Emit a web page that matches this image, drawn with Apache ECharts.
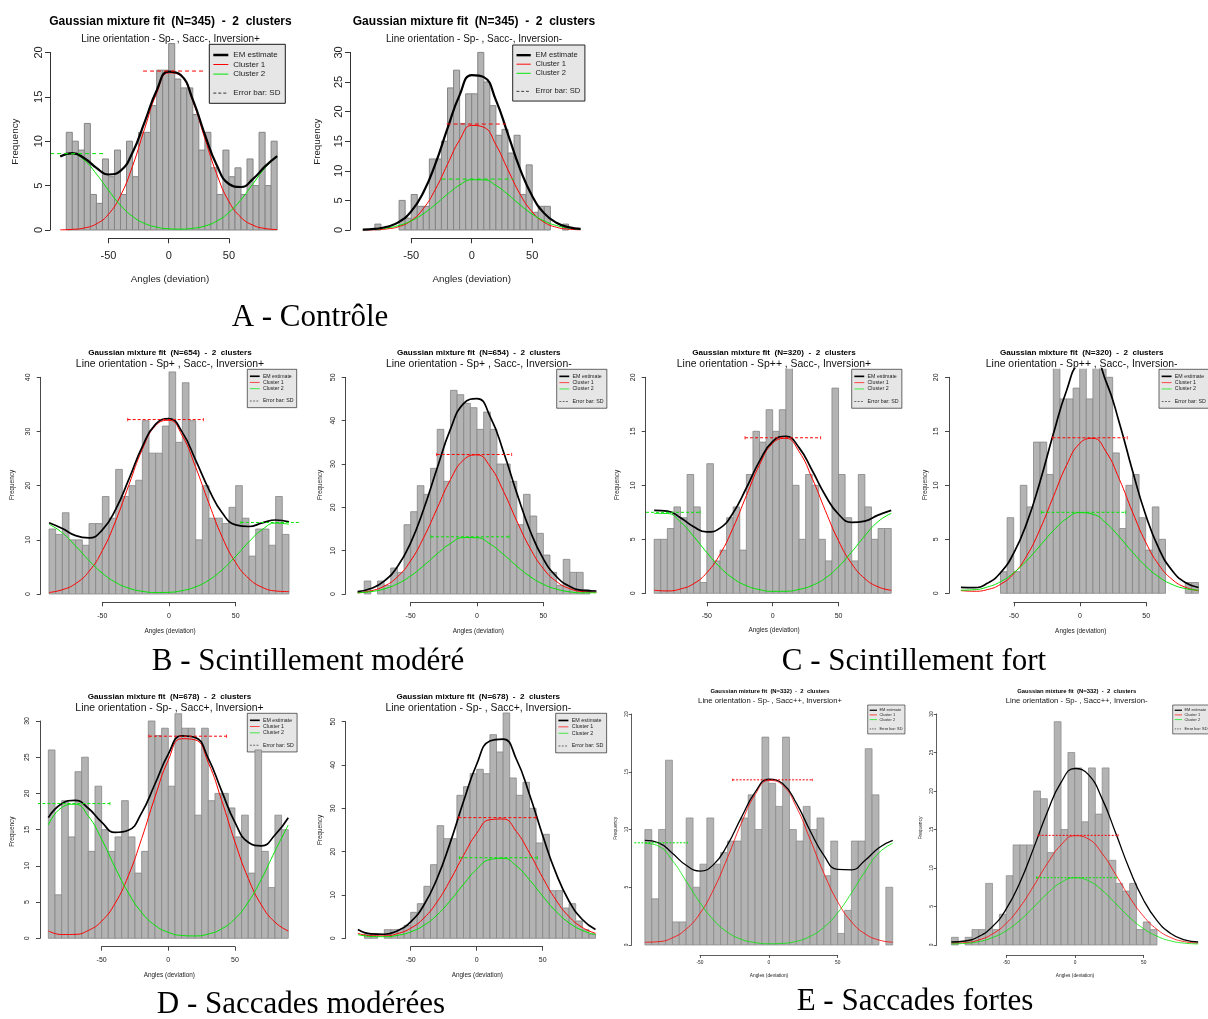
<!DOCTYPE html>
<html>
<head>
<meta charset="utf-8">
<script src="https://cdn.jsdelivr.net/npm/echarts@6/dist/echarts.min.js"></script>
<style>
html,body{margin:0;padding:0;background:#ffffff;}
#chart{width:1208px;height:1019px;}
</style>
</head>
<body>
<div id="chart"></div>
<script>
// ================= DATA =================
const curveX = [-90,-80,-70,-60,-50,-40,-30,-20,-10,0,10,20,30,40,50,60,70,80,90];
const binWidth = 5;
const binStart = [-85,-85,-90,-90,-90,-90,-90,-90,-90,-90];
const sampleN = [345,345,654,654,320,320,678,678,332,332];
const subtitles = [
  'Line orientation - Sp- , Sacc-, Inversion+',
  'Line orientation - Sp- , Sacc-, Inversion-',
  'Line orientation - Sp+ , Sacc-, Inversion+',
  'Line orientation - Sp+ , Sacc-, Inversion-',
  'Line orientation - Sp++ , Sacc-, Inversion+',
  'Line orientation - Sp++ , Sacc-, Inversion-',
  'Line orientation - Sp- , Sacc+, Inversion+',
  'Line orientation - Sp- , Sacc+, Inversion-',
  'Line orientation - Sp- , Sacc++, Inversion+',
  'Line orientation - Sp- , Sacc++, Inversion-'
];
const captions = ['A - Contrôle','B - Scintillement modéré','C - Scintillement fort','D - Saccades modérées','E - Saccades fortes'];
const legendLabels = ['EM estimate','Cluster 1','Cluster 2','Error bar: SD'];
const xTickValues = [-50, 0, 50];
const yTickTop = [20,30,40,50,20,20,30,50,20,30];
const yTickStep = [5,5,10,10,5,5,5,10,5,5];

// A - Contrôle
const countsA1 = [11,10,9,12,4,3,8,6,9,4,10,6,11,11,14,18,18,21,17,16,16,13,9,11,7,4,9,6,7,4,8,5,11,5,10];
const redA1   = [0.02,0.07,0.23,0.69,1.77,3.87,7.2,11.4,15.4,17.7,17.35,14.5,10.3,6.25,3.2,1.42,0.54,0.17,0.05];
const greenA1 = [8.26,8.58,7.85,6.31,4.48,2.79,1.53,0.74,0.32,0.14,0.10,0.19,0.45,1.01,1.98,3.42,5.22,6.99,8.26];
const emA1    = [8.28,8.65,8.08,7.0,6.25,6.66,8.73,12.14,15.72,17.84,17.45,14.69,10.75,7.26,5.18,4.84,5.76,7.16,8.31];
const errRedA1 = [3.7,25,17.9];      // mean, SD, height
const errGreenA1 = [-82,28,8.6];

const countsA2 = [0,1,0,0,0,5,2,6,4,4,12,12,15,24,27,18,23,23,30,25,21,16,17,13,16,6,11,3,4,4,0,0,1,0,0];
const redA2   = [0.01,0.05,0.19,0.59,1.59,3.6,6.87,11.1,15.2,17.67,17.35,14.4,10.15,6.05,3.06,1.3,0.47,0.15,0.04];
const greenA2 = [0.05,0.14,0.35,0.78,1.55,2.73,4.31,6.05,7.59,8.49,8.47,7.53,5.99,4.24,2.68,1.51,0.76,0.34,0.14];
const emA2    = [0.06,0.19,0.54,1.37,3.14,6.33,11.18,17.15,22.79,26.16,25.82,21.93,16.14,10.29,5.74,2.81,1.23,0.49,0.18];
const errRedA2 = [3.9,24.5,17.9];
const errGreenA2 = [4.8,29.6,8.6];

// B - Scintillement modéré
const countsB1 = [12,11,15,10,10,9,13,13,18,14,23,18,20,21,32,26,26,31,41,28,39,32,10,20,14,14,13,16,20,14,7,12,12,9,18,11];
const redB1   = [0.28,0.79,1.93,4.18,8.0,13.5,20.2,26.7,31.1,32.07,29.2,23.4,16.7,10.46,5.8,2.83,1.23,0.56,0.44];
const greenB1 = [12.88,11.3,8.84,6.18,3.84,2.14,1.06,0.5,0.27,0.31,0.63,1.32,2.58,4.48,6.96,9.63,11.9,13.1,12.88];
const emB1    = [13.16,12.09,10.77,10.36,11.84,15.64,21.26,27.2,31.37,32.38,29.83,24.72,19.28,14.94,12.76,12.46,13.13,13.66,13.32];
const errRedB1 = [-2.6,28.4,32.2];
const errGreenB1 = [83.5,29.6,13.2];

const countsB2 = [0,3,0,3,2,6,5,16,19,25,23,29,38,26,47,46,44,43,38,42,38,30,30,26,16,23,18,14,9,5,2,8,5,5,1,0];
const redB2   = [0.25,0.72,1.8,3.95,7.66,13.14,19.8,26.4,30.98,32.1,29.36,23.67,16.85,10.58,5.86,2.86,1.23,0.55,0.41];
const greenB2 = [0.28,0.54,1.17,2.34,4.16,6.58,9.28,11.65,13.03,12.99,11.53,9.12,6.43,4.03,2.24,1.12,0.5,0.27,0.28];
const emB2    = [0.53,1.26,2.97,6.29,11.82,19.72,29.08,38.05,44.01,45.09,40.89,32.79,23.28,14.61,8.1,3.98,1.73,0.82,0.69];
const errRedB2 = [-2.15,28.25,32.2];
const errGreenB2 = [-5.3,29.4,13.2];

// C - Scintillement fort
const countsC1 = [5,5,6,8,7,11,8,1,12,3,4,7,8,4,11,15,14,17,15,17,21,10,5,11,10,5,3,19,11,7,3,11,8,5,6,6];
const redC1   = [0.28,0.22,0.40,0.89,1.91,3.62,6.08,9.04,11.9,13.89,14.35,13.13,10.64,7.65,4.86,2.74,1.36,0.60,0.28];
const greenC1 = [7.40,7.39,6.6,5.27,3.77,2.41,1.38,0.71,0.34,0.18,0.19,0.36,0.73,1.41,2.46,3.83,5.33,6.64,7.40];
const emC1    = [7.68,7.61,7.0,6.16,5.68,6.03,7.46,9.75,12.24,14.07,14.54,13.49,11.37,9.06,7.32,6.57,6.69,7.24,7.68];
const errRedC1 = [7.7,28.7,14.4];
const errGreenC1 = [-85.2,30,7.5];

const countsC2 = [0,0,0,0,0,0,2,7,2,10,8,14,14,11,21,18,18,19,21,18,21,21,20,13,6,10,11,7,4,8,5,0,0,0,1,1];
const redC2   = [0.25,0.19,0.34,0.83,1.82,3.5,5.95,8.94,11.85,13.88,14.35,13.1,10.57,7.53,4.73,2.63,1.29,0.56,0.25];
const greenC2 = [0.29,0.33,0.58,1.07,1.9,3.04,4.41,5.8,6.91,7.47,7.32,6.5,5.23,3.81,2.52,1.51,0.82,0.44,0.29];
const emC2    = [0.54,0.52,0.92,1.9,3.72,6.54,10.36,14.74,18.76,21.35,21.67,19.6,15.8,11.34,7.25,4.14,2.11,1.0,0.54];
const errRedC2 = [7.7,28.35,14.4];
const errGreenC2 = [2.9,31.9,7.5];

// D - Saccades modérées
const countsD1 = [26,6,19,14,23,25,12,21,15,12,14,19,14,9,12,30,28,29,21,31,29,29,17,29,19,20,20,18,14,17,9,26,12,7,17,15];
const redD1   = [1.02,0.52,0.54,1.08,2.37,4.8,8.62,13.75,19.5,24.6,27.55,27.4,24.25,19.06,13.3,8.26,4.55,2.23,1.01];
const greenD1 = [15.64,18.05,18.51,16.87,13.67,9.82,6.29,3.57,1.8,0.83,0.39,0.33,0.59,1.3,2.7,5.0,8.22,12.03,15.64];
const emD1    = [16.66,18.57,19.05,17.95,16.04,14.62,14.91,17.32,21.3,25.43,27.94,27.73,24.84,20.36,16.0,13.26,12.77,14.26,16.65];
const errRedD1 = [14.6,29.1,27.9];
const errGreenD1 = [-72.85,29.1,18.6];

const countsD2 = [0,1,1,0,2,2,2,3,6,8,12,17,26,23,23,33,35,38,39,38,47,43,52,37,33,36,30,22,24,11,11,7,8,4,2,1];
const redD2   = [1.16,0.59,0.57,1.08,2.33,4.68,8.41,13.45,19.13,24.23,27.37,27.53,24.66,19.69,14.0,8.86,4.99,2.51,1.16];
const greenD2 = [0.86,0.42,0.37,0.68,1.48,2.99,5.4,8.69,12.46,15.94,18.17,18.46,16.72,13.5,9.73,6.23,3.57,1.82,0.86];
const emD2    = [2.02,1.01,0.94,1.76,3.81,7.67,13.81,22.14,31.59,40.17,45.54,45.99,41.38,33.19,23.73,15.09,8.56,4.33,2.02];
const errRedD2 = [15.5,29.4,27.85];
const errGreenD2 = [16.4,29.5,18.6];

// E - Saccades fortes
const countsE1 = [10,4,10,16,2,2,11,5,7,11,7,8,9,9,11,13,10,18,14,12,18,10,9,12,10,11,6,9,1,3,9,9,17,13,0,5];
const redE1   = [0.24,0.29,0.62,1.38,2.73,4.83,7.56,10.53,13.0,14.24,13.84,11.96,9.15,6.22,3.75,2.01,0.96,0.43,0.24];
const greenE1 = [8.81,8.56,7.32,5.52,3.67,2.15,1.11,0.5,0.21,0.11,0.14,0.32,0.74,1.53,2.79,4.5,6.38,7.99,8.81];
const emE1    = [9.05,8.85,7.94,6.9,6.4,6.98,8.67,11.03,13.21,14.35,13.98,12.28,9.89,7.75,6.54,6.51,7.34,8.42,9.05];
const errRedE1 = [2.65,28.95,14.3];
const errGreenE1 = [-87.3,28.1,8.85];

const countsE2 = [1,0,1,2,2,8,2,4,9,13,13,13,20,19,12,29,15,25,23,16,23,17,23,11,8,7,8,2,3,2,0,0,0,0,0,0];
const redE2   = [0.25,0.31,0.66,1.44,2.82,4.93,7.66,10.58,13.0,14.19,13.77,11.88,9.11,6.21,3.77,2.03,0.97,0.44,0.25];
const greenE2 = [0.14,0.21,0.44,0.96,1.86,3.2,4.92,6.7,8.12,8.73,8.35,7.1,5.36,3.59,2.14,1.14,0.53,0.24,0.14];
const emE2    = [0.39,0.52,1.1,2.4,4.68,8.13,12.58,17.28,21.12,22.92,22.12,18.98,14.47,9.8,5.91,3.17,1.5,0.68,0.39];
const errRedE2 = [2.45,29.15,14.24];
const errGreenE2 = [1.2,29.1,8.74];

const panels = [
  {counts:countsA1, red:redA1, green:greenA1, em:emA1, errRed:errRedA1, errGreen:errGreenA1},
  {counts:countsA2, red:redA2, green:greenA2, em:emA2, errRed:errRedA2, errGreen:errGreenA2},
  {counts:countsB1, red:redB1, green:greenB1, em:emB1, errRed:errRedB1, errGreen:errGreenB1},
  {counts:countsB2, red:redB2, green:greenB2, em:emB2, errRed:errRedB2, errGreen:errGreenB2},
  {counts:countsC1, red:redC1, green:greenC1, em:emC1, errRed:errRedC1, errGreen:errGreenC1},
  {counts:countsC2, red:redC2, green:greenC2, em:emC2, errRed:errRedC2, errGreen:errGreenC2},
  {counts:countsD1, red:redD1, green:greenD1, em:emD1, errRed:errRedD1, errGreen:errGreenD1},
  {counts:countsD2, red:redD2, green:greenD2, em:emD2, errRed:errRedD2, errGreen:errGreenD2},
  {counts:countsE1, red:redE1, green:greenE1, em:emE1, errRed:errRedE1, errGreen:errGreenE1},
  {counts:countsE2, red:redE2, green:greenE2, em:emE2, errRed:errRedE2, errGreen:errGreenE2}
];

// ================= LAYOUT / STYLE =================
const SANS = '"Liberation Sans", Arial, Helvetica, sans-serif';
const SERIF = '"Liberation Serif", "Times New Roman", serif';
const RED = '#ff0000', GREEN = '#00e600', BAR_FILL = '#b3b3b3', BAR_EDGE = '#858585';
const STY = {
  big:   {title:12,  sub:10,   tick:11,  lab:9.8, tickLen:5, xm:12.5, ym:6,   em:2.2, cl:1,   bar:1,   dash:[4,3],   cap:0,   axW:1},
  mid:   {title:8.1, sub:10.4, tick:7,   lab:6.4, tickLen:4, xm:10,   ym:9,   em:1.7, cl:1,   bar:0.8, dash:[3,2],   cap:1.6, axW:0.9},
  small: {title:5.9, sub:7.7,  tick:4.8, lab:4.8, tickLen:3, xm:5.5,  ym:2.6, em:1.3, cl:0.8, bar:0.7, dash:[2,1.5], cap:1.2, axW:0.8}
};
// rTop: plot-region top used for clipping (C panels are clipped just above the 20 tick)
const layout = [
  {st:'big',  x0:168.7, xs:1.205, y0:230,   ys:8.88,  axY:238.3, axX:50,    tX:170.5,  tY:21.7,  sY:39.3,  fX:15,    fY:141.7, aX:170,    aY:279.3, leg:[209.3,44.3,1]},
  {st:'big',  x0:471.7, xs:1.21,  y0:230,   ys:5.92,  axY:238.3, axX:350,   tX:474,    tY:21.7,  sY:39.3,  fX:317.3, fY:141.7, aX:471.7,  aY:279.3, leg:[512.7,45,0.95]},
  {st:'mid',  x0:169,   xs:1.333, y0:594,   ys:5.417, axY:602.3, axX:40.7,  tX:170,    tY:352.7, sY:364,   fX:12.7,  fY:485,   aX:170,    aY:631.7, leg:[247.3,369.3,0.65]},
  {st:'mid',  x0:477,   xs:1.327, y0:594,   ys:4.333, axY:602.3, axX:345.7, tX:478.8,  tY:352.7, sY:364,   fX:320,   fY:485,   aX:478.3,  aY:631.7, leg:[556.7,369.3,0.66]},
  {st:'mid',  x0:772.7, xs:1.317, y0:593.3, ys:10.8,  axY:602.3, axX:645.7, tX:774,    tY:352.7, sY:364,   fX:617.7, fY:485,   aX:774,    aY:630.7, leg:[851.7,369.3,0.66], rTop:20.8},
  {st:'mid',  x0:1080,  xs:1.323, y0:593.3, ys:10.8,  axY:602.3, axX:949,   tX:1081.7, tY:352.7, sY:364,   fX:925,   fY:485,   aX:1080.7, aY:631.7, leg:[1159,369.3,0.66], rTop:20.8},
  {st:'mid',  x0:168.3, xs:1.333, y0:938.3, ys:7.244, axY:946.7, axX:40,    tX:169.5,  tY:696.7, sY:708.3, fX:12.7,  fY:831.7, aX:169.3,  aY:975.7, leg:[247.3,713.3,0.655]},
  {st:'mid',  x0:476.7, xs:1.32,  y0:938.3, ys:4.333, axY:946.7, axX:345.7, tX:478.3,  tY:696.7, sY:708.3, fX:320,   fY:830,   aX:477.3,  aY:975.7, leg:[555.7,713.3,0.67]},
  {st:'small',x0:768.8, xs:1.377, y0:945,   ys:11.55, axY:955,   axX:631.7, tX:770,    tY:691.7, sY:700.7, fX:616,   fY:828.3, aX:769,    aY:976,   leg:[867.7,705,0.49]},
  {st:'small',x0:1075,  xs:1.373, y0:945,   ys:7.7,   axY:955,   axX:936.7, tX:1076.7, tY:691.7, sY:700.7, fX:921,   fY:828,   aX:1075,   aY:976,   leg:[1172.7,705,0.49]}
];
const captionPos = [[310,318],[308,662],[914,662],[301,1005],[915,1002]];
const REGION_X = 97.2; // R plot region half-range (data range +4%)

// ================= BUILD =================
function txt(x, y, text, size, opts) {
  opts = opts || {};
  const al = opts.align || 'center';
  return {type:'text', x:x, y:y, rotation:opts.rot || 0, silent:true, z:100,
    style:{text:text, x:0, y:0, fill:opts.color || '#000',
      font:(opts.bold ? 'bold ' : '') + size + 'px ' + (opts.serif ? SERIF : SANS),
      textAlign:al, textVerticalAlign:'middle', align:al, verticalAlign:'middle'}};
}
function legendBox(x, y, s) {
  const w = 76 * s, h = 59 * s;
  const rows = [10.7, 20.2, 29.8, 48.8].map(v => v * s);
  const lx1 = 4 * s, lx2 = 19 * s, tx = 24 * s, fs = 8 * s;
  const ch = [
    {type:'rect', shape:{x:0, y:0, width:w, height:h}, style:{fill:'#e6e6e6', stroke:'#1a1a1a', lineWidth:Math.max(0.6, s)}},
    {type:'line', shape:{x1:lx1, y1:rows[0], x2:lx2, y2:rows[0]}, style:{stroke:'#000', lineWidth:Math.max(1.2, 2.5 * s)}},
    {type:'line', shape:{x1:lx1, y1:rows[1], x2:lx2, y2:rows[1]}, style:{stroke:RED, lineWidth:Math.max(0.7, s)}},
    {type:'line', shape:{x1:lx1, y1:rows[2], x2:lx2, y2:rows[2]}, style:{stroke:GREEN, lineWidth:Math.max(0.7, s)}},
    {type:'line', shape:{x1:lx1, y1:rows[3], x2:lx2, y2:rows[3]}, style:{stroke:'#333', lineWidth:Math.max(0.7, s), lineDash:[3 * s, 2 * s]}}
  ];
  [0,1,2,3].forEach(k => {
    ch.push({type:'text', style:{text:legendLabels[k], x:tx, y:rows[k], fill:'#222', font:fs + 'px ' + SANS,
      textAlign:'left', textVerticalAlign:'middle', align:'left', verticalAlign:'middle'}});
  });
  return {type:'group', x:x, y:y, silent:true, z:100, children:ch};
}

const option = {animation:false, backgroundColor:'#ffffff', textStyle:{fontFamily:SANS},
  grid:[], xAxis:[], yAxis:[], series:[], graphic:[]};

panels.forEach((p, i) => {
  const L = layout[i], S = STY[L.st];
  const T = Math.max.apply(null, p.counts);
  const top = L.rTop || 1.04 * T, bot = -0.04 * T;
  const gi = 2 * i, ai = 2 * i + 1;
  // data region (R plot region)
  option.grid.push({left:L.x0 - REGION_X * L.xs, top:L.y0 - top * L.ys, width:2 * REGION_X * L.xs, height:(top - bot) * L.ys});
  option.xAxis.push({gridIndex:gi, type:'value', min:-REGION_X, max:REGION_X, show:false});
  option.yAxis.push({gridIndex:gi, type:'value', min:bot, max:top, show:false});
  // axis frame (R style axes spanning tick range only)
  const aLeft = L.x0 + xTickValues[0] * L.xs;
  const aTop = L.y0 - yTickTop[i] * L.ys;
  option.grid.push({left:aLeft, top:aTop, width:(xTickValues[2] - xTickValues[0]) * L.xs, height:yTickTop[i] * L.ys});
  const axLine = {show:true, onZero:false, lineStyle:{color:'#333', width:S.axW}};
  const axTick = {show:true, length:S.tickLen, lineStyle:{color:'#333', width:S.axW}};
  option.xAxis.push({gridIndex:ai, type:'value', position:'bottom', min:xTickValues[0], max:xTickValues[2],
    interval:xTickValues[1] - xTickValues[0], offset:L.axY - L.y0, axisLine:axLine, axisTick:axTick,
    axisLabel:{fontSize:S.tick, margin:S.xm, color:'#222', fontFamily:SANS}, splitLine:{show:false}});
  option.yAxis.push({gridIndex:ai, type:'value', position:'left', min:0, max:yTickTop[i], interval:yTickStep[i],
    offset:aLeft - L.axX, axisLine:axLine, axisTick:axTick,
    axisLabel:{fontSize:S.tick, margin:S.ym, color:'#222', rotate:90, fontFamily:SANS}, splitLine:{show:false}});

  // histogram bars
  const bars = p.counts.map((c, k) => [binStart[i] + k * binWidth, binStart[i] + (k + 1) * binWidth, c]);
  option.series.push({type:'custom', xAxisIndex:gi, yAxisIndex:gi, clip:true, silent:true, z:2,
    encode:{x:[0,1], y:2}, data:bars,
    renderItem:function (params, api) {
      const h = api.value(2);
      if (!h) return null;
      const a = api.coord([api.value(0), h]);
      const b = api.coord([api.value(1), 0]);
      return {type:'rect', shape:{x:a[0], y:a[1], width:b[0] - a[0], height:b[1] - a[1]},
        style:{fill:BAR_FILL, stroke:BAR_EDGE, lineWidth:S.bar}};
    }});
  // curves
  const mk = (arr) => curveX.map((x, k) => [x, arr[k]]);
  option.series.push({type:'line', xAxisIndex:gi, yAxisIndex:gi, data:mk(p.red), smooth:true, showSymbol:false, symbol:'none',
    clip:true, silent:true, z:3, lineStyle:{color:RED, width:S.cl}});
  option.series.push({type:'line', xAxisIndex:gi, yAxisIndex:gi, data:mk(p.green), smooth:true, showSymbol:false, symbol:'none',
    clip:true, silent:true, z:3, lineStyle:{color:GREEN, width:S.cl}});
  option.series.push({type:'line', xAxisIndex:gi, yAxisIndex:gi, data:mk(p.em), smooth:true, showSymbol:false, symbol:'none',
    clip:true, silent:true, z:4, lineStyle:{color:'#000', width:S.em}});
  // error bars (mean +/- SD at cluster height)
  option.series.push({type:'custom', xAxisIndex:gi, yAxisIndex:gi, clip:true, silent:true, z:5,
    encode:{x:0, y:2}, data:[p.errRed, p.errGreen],
    renderItem:function (params, api) {
      const m = api.value(0), s = api.value(1), h = api.value(2);
      const a = api.coord([m - s, h]), b = api.coord([m + s, h]);
      const col = params.dataIndex === 0 ? RED : GREEN;
      const ch = [{type:'line', shape:{x1:a[0], y1:a[1], x2:b[0], y2:b[1]}, style:{stroke:col, lineWidth:1, lineDash:S.dash}}];
      if (S.cap > 0) {
        ch.push({type:'line', shape:{x1:a[0], y1:a[1] - S.cap, x2:a[0], y2:a[1] + S.cap}, style:{stroke:col, lineWidth:0.8}});
        ch.push({type:'line', shape:{x1:b[0], y1:b[1] - S.cap, x2:b[0], y2:b[1] + S.cap}, style:{stroke:col, lineWidth:0.8}});
      }
      return {type:'group', children:ch};
    }});

  // texts
  option.graphic.push(txt(L.tX, L.tY, 'Gaussian mixture fit  (N=' + sampleN[i] + ')  -  2  clusters', S.title, {bold:true}));
  option.graphic.push(txt(L.tX, L.sY, subtitles[i], S.sub, {color:'#111'}));
  option.graphic.push(txt(L.fX, L.fY, 'Frequency', S.lab, {rot:Math.PI / 2, color:'#222'}));
  option.graphic.push(txt(L.aX, L.aY, 'Angles (deviation)', S.lab, {color:'#222'}));
  option.graphic.push(legendBox(L.leg[0], L.leg[1], L.leg[2]));
});
captions.forEach((c, k) => {
  option.graphic.push(txt(captionPos[k][0], captionPos[k][1], c, 31, {serif:true}));
});

const chart = echarts.init(document.getElementById('chart'), null, {renderer:'canvas', devicePixelRatio:1});
chart.setOption(option);
</script>
</body>
</html>
